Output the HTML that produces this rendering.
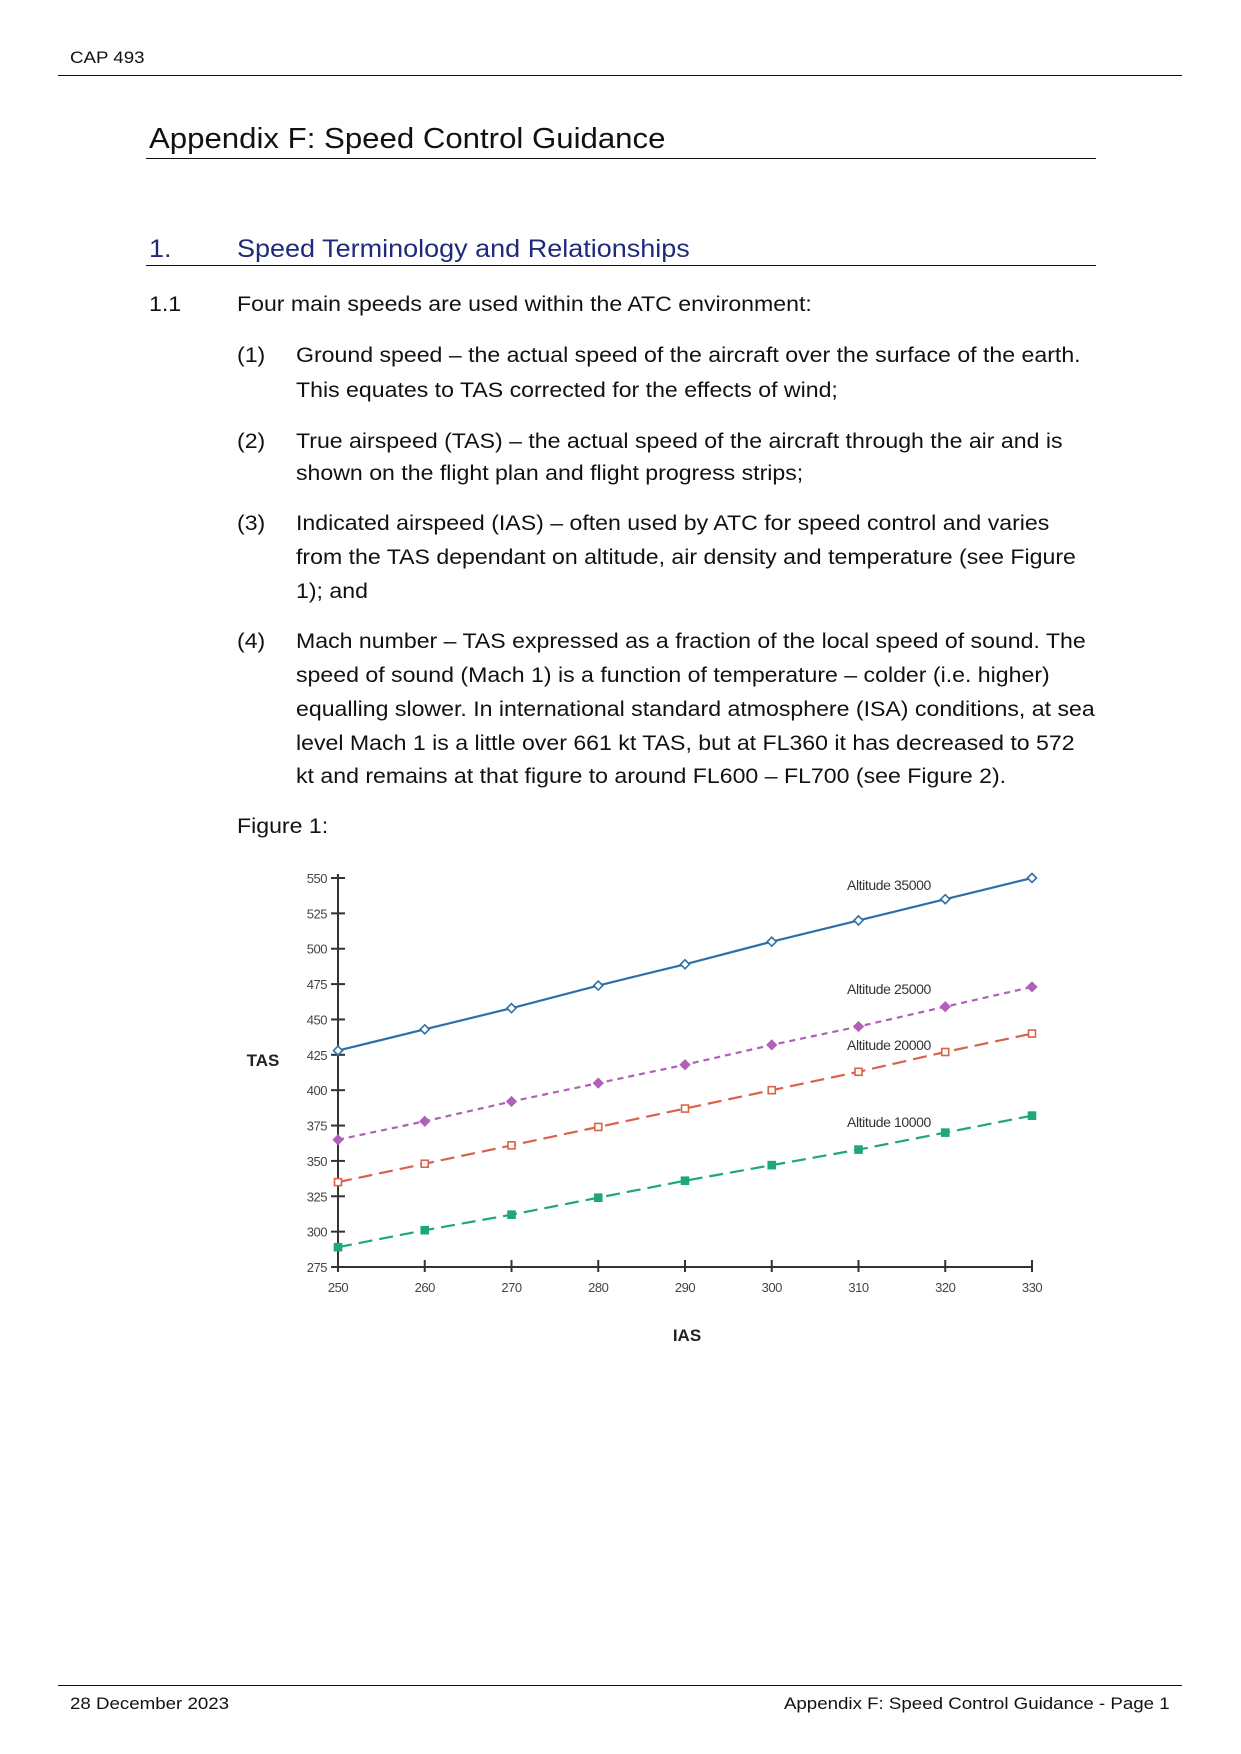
<!DOCTYPE html>
<html><head><meta charset="utf-8">
<style>
body{margin:0;background:#fff;}
#page{position:relative;width:1241px;height:1754px;overflow:hidden;font-family:"Liberation Sans",sans-serif;color:#111;}
.t{position:absolute;white-space:nowrap;line-height:1;transform-origin:left top;}
.b{font-size:21px;transform:scaleX(1.1);}
.hr{position:absolute;height:1px;background:#111;}
</style></head><body>
<div id="page">
<div class="t" style="left:70px;top:49px;font-size:17px;transform:scaleX(1.1);">CAP 493</div>
<div class="hr" style="left:58px;top:75px;width:1124px;"></div>
<div class="t" style="left:149px;top:125px;font-size:29px;transform:scaleX(1.075);">Appendix F: Speed Control Guidance</div>
<div class="hr" style="left:146px;top:158px;width:950px;"></div>
<div class="t" style="left:149px;top:237px;font-size:25px;color:#1f2a7a;transform:scaleX(1.08);">1.</div>
<div class="t" style="left:237px;top:237px;font-size:25px;color:#1f2a7a;transform:scaleX(1.08);">Speed Terminology and Relationships</div>
<div class="hr" style="left:146px;top:265px;width:950px;"></div>

<div class="t b" style="left:149px;top:294px;">1.1</div>
<div class="t b" style="left:237px;top:294px;">Four main speeds are used within the ATC environment:</div>

<div class="t b" style="left:237px;top:345px;">(1)</div>
<div class="t b" style="left:296px;top:345px;">Ground speed – the actual speed of the aircraft over the surface of the earth.</div>
<div class="t b" style="left:296px;top:380px;">This equates to TAS corrected for the effects of wind;</div>

<div class="t b" style="left:237px;top:431px;">(2)</div>
<div class="t b" style="left:296px;top:431px;">True airspeed (TAS) – the actual speed of the aircraft through the air and is</div>
<div class="t b" style="left:296px;top:463px;">shown on the flight plan and flight progress strips;</div>

<div class="t b" style="left:237px;top:513px;">(3)</div>
<div class="t b" style="left:296px;top:513px;">Indicated airspeed (IAS) – often used by ATC for speed control and varies</div>
<div class="t b" style="left:296px;top:547px;">from the TAS dependant on altitude, air density and temperature (see Figure</div>
<div class="t b" style="left:296px;top:581px;">1); and</div>

<div class="t b" style="left:237px;top:631px;">(4)</div>
<div class="t b" style="left:296px;top:631px;">Mach number – TAS expressed as a fraction of the local speed of sound. The</div>
<div class="t b" style="left:296px;top:665px;">speed of sound (Mach 1) is a function of temperature – colder (i.e. higher)</div>
<div class="t b" style="left:296px;top:699px;">equalling slower. In international standard atmosphere (ISA) conditions, at sea</div>
<div class="t b" style="left:296px;top:733px;">level Mach 1 is a little over 661 kt TAS, but at FL360 it has decreased to 572</div>
<div class="t b" style="left:296px;top:766px;">kt and remains at that figure to around FL600 – FL700 (see Figure 2).</div>

<div class="t b" style="left:237px;top:816px;">Figure 1:</div>

<svg id="chart" style="position:absolute;left:0;top:0" width="1241" height="1754"></svg>

<div class="hr" style="left:58px;top:1685px;width:1124px;"></div>
<div class="t" style="left:70px;top:1695px;font-size:17px;transform:scaleX(1.1);">28 December 2023</div>
<div class="t" style="right:71px;top:1695px;font-size:17px;transform:scaleX(1.1);transform-origin:right top;">Appendix F: Speed Control Guidance - Page 1</div>
</div>
<script>
const categories=[250,260,270,280,290,300,310,320,330];
const yTicks=[275,300,325,350,375,400,425,450,475,500,525,550];
const alt35000=[428,443,458,474,489,505,520,535,550];
const alt25000=[365,378,392,405,418,432,445,459,473];
const alt20000=[335,348,361,374,387,400,413,427,440];
const alt10000=[289,301,312,324,336,347,358,370,382];
const seriesNames=["Altitude 35000","Altitude 25000","Altitude 20000","Altitude 10000"];

const NS="http://www.w3.org/2000/svg";
const svg=document.getElementById('chart');
const X0=338,X1=1032,Y0=1267,Y1=878;
function xs(v){return X0+(v-250)/(330-250)*(X1-X0);}
function ys(v){return Y0-(v-275)/(550-275)*(Y0-Y1);}
function mk(tag,attrs){const e=document.createElementNS(NS,tag);for(const k in attrs)e.setAttribute(k,attrs[k]);svg.appendChild(e);return e;}

let e=mk('line',{x1:X0,y1:Y1-4,x2:X0,y2:Y0,stroke:'#333','stroke-width':2});


e=mk('line',{x1:X0,y1:Y0,x2:X1,y2:Y0,stroke:'#333','stroke-width':2});



yTicks.forEach(v=>{
  const t=mk('line',{x1:X0-7,x2:X0+7,y1:ys(v),y2:ys(v),stroke:'#333','stroke-width':2});
  
  
  const l=mk('text',{x:327,y:ys(v)+5,'text-anchor':'end','font-size':13,fill:'#444','font-family':'Liberation Sans, sans-serif','letter-spacing':'-0.5'});
  l.textContent=v;
  
  
});
categories.forEach(v=>{
  const t=mk('line',{x1:xs(v),x2:xs(v),y1:Y0-7,y2:Y0+5,stroke:'#333','stroke-width':2});
  
  
  const l=mk('text',{x:xs(v),y:Y0+25,'text-anchor':'middle','font-size':13,fill:'#444','font-family':'Liberation Sans, sans-serif','letter-spacing':'-0.5'});
  l.textContent=v;
  
  
});
e=mk('text',{x:263,y:1066,'text-anchor':'middle','font-size':17,'font-weight':'bold',fill:'#222','font-family':'Liberation Sans, sans-serif'});
e.textContent='TAS';


e=mk('text',{x:687,y:1341,'text-anchor':'middle','font-size':17,'font-weight':'bold',fill:'#222','font-family':'Liberation Sans, sans-serif'});
e.textContent='IAS';



const series=[
 {d:alt35000,c:'#2f6fa8',dash:'',m:'diamond',fill:false,ly:890},
 {d:alt25000,c:'#b060b8',dash:'6 5',m:'diamond',fill:true,ly:994},
 {d:alt20000,c:'#d9634a',dash:'14 7',m:'square',fill:false,ly:1050},
 {d:alt10000,c:'#1ea67c',dash:'14 7',m:'square',fill:true,ly:1127}
];
series.forEach((s,i)=>{
  const pts=s.d.map((v,j)=>xs(categories[j])+','+ys(v)).join(' ');
  const p=mk('polyline',{points:pts,fill:'none',stroke:s.c,'stroke-width':2.2,'stroke-dasharray':s.dash});
  
  
  s.d.forEach((v,j)=>{
    const x=xs(categories[j]),y=ys(v);
    let m;
    if(s.m==='diamond') m=mk('polygon',{points:`${x},${y-4.5} ${x+4.5},${y} ${x},${y+4.5} ${x-4.5},${y}`,fill:s.fill?s.c:'#fff',stroke:s.c,'stroke-width':1.6});
    else m=mk('rect',{x:x-3.5,y:y-3.5,width:7,height:7,fill:s.fill?s.c:'#fff',stroke:s.c,'stroke-width':1.6});
    
    
  });
  const l=mk('text',{x:847,y:s.ly,'font-size':14,fill:'#333','font-family':'Liberation Sans, sans-serif','letter-spacing':'-0.4'});
  l.textContent=seriesNames[i];
  
  
});
</script>
</body></html>
